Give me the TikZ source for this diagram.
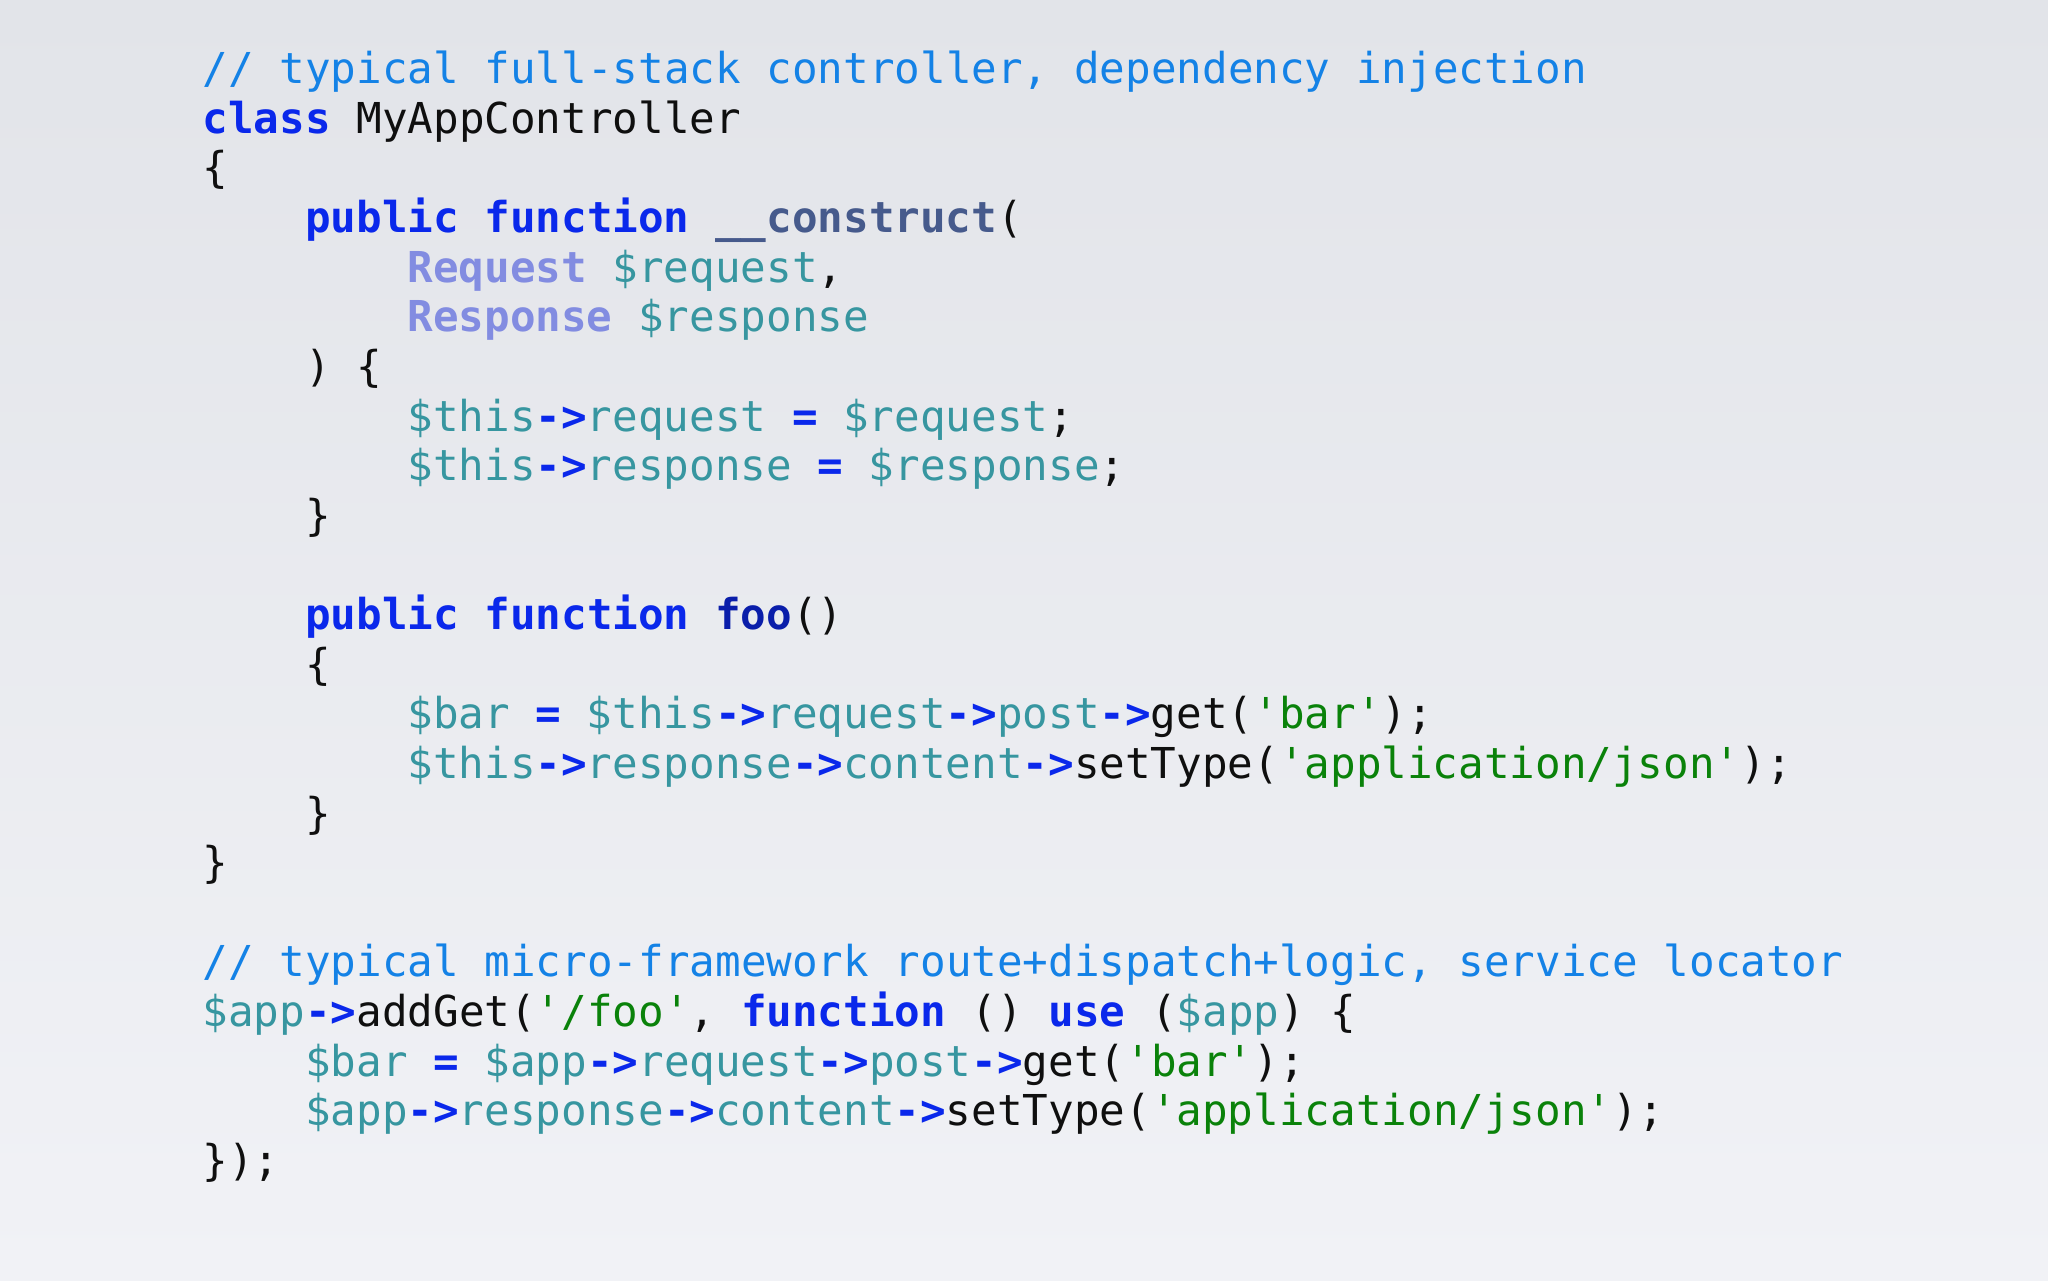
\documentclass[tikz,border=0pt]{standalone}
\usepackage{fontspec}
\newfontfamily\code{DejaVu Sans Mono}
\definecolor{cm}{RGB}{20,130,230}
\definecolor{kw}{RGB}{10,40,235}
\definecolor{vr}{RGB}{55,150,160}
\definecolor{ty}{RGB}{130,140,225}
\definecolor{fnc}{RGB}{70,90,140}
\definecolor{foo}{RGB}{10,30,170}
\definecolor{st}{RGB}{10,130,10}
\definecolor{tx}{RGB}{15,15,15}
\newcommand\Cm[1]{\textcolor{cm}{#1}}
\newcommand\Kw[1]{\textcolor{kw}{\bfseries #1}}
\newcommand\Vr[1]{\textcolor{vr}{#1}}
\newcommand\Ty[1]{\textcolor{ty}{\bfseries #1}}
\newcommand\Fc[1]{\textcolor{fnc}{\bfseries #1}}
\newcommand\Fo[1]{\textcolor{foo}{\bfseries #1}}
\newcommand\St[1]{\textcolor{st}{#1}}
\newcommand\Ar{\Kw{->}}
\newcommand\CodeLine[4]{\node[ln] (#1) at (155+#2*19.6,978-#3) {#4};}
\begin{document}
\begin{tikzpicture}[x=1pt,y=1pt,
  ln/.style={anchor=base west,inner sep=0pt,font=\code\fontsize{32.6}{38}\selectfont,text=tx}]
\shade[top color={rgb,255:red,226;green,228;blue,233},bottom color={rgb,255:red,241;green,242;blue,246}] (0,0) rectangle (1568,980);
\useasboundingbox (0,0) rectangle (1568,980);
\CodeLine{l0}{0}{62}{\Cm{// typical full-stack controller, dependency injection}}
\CodeLine{l1}{0}{100}{\Kw{class} MyAppController}
\CodeLine{l2}{0}{138}{\{}
\CodeLine{l3}{4}{176}{\Kw{public} \Kw{function} \Fc{\_\_construct}(}
\CodeLine{l4}{8}{214}{\Ty{Request} \Vr{\$request},}
\CodeLine{l5}{8}{252}{\Ty{Response} \Vr{\$response}}
\CodeLine{l6}{4}{290}{) \{}
\CodeLine{l7}{8}{328}{\Vr{\$this}\Ar\Vr{request} \Kw{=} \Vr{\$request};}
\CodeLine{l8}{8}{366}{\Vr{\$this}\Ar\Vr{response} \Kw{=} \Vr{\$response};}
\CodeLine{l9}{4}{404}{\}}
\CodeLine{l11}{4}{480}{\Kw{public} \Kw{function} \Fo{foo}()}
\CodeLine{l12}{4}{518}{\{}
\CodeLine{l13}{8}{556}{\Vr{\$bar} \Kw{=} \Vr{\$this}\Ar\Vr{request}\Ar\Vr{post}\Ar get(\St{'bar'});}
\CodeLine{l14}{8}{594}{\Vr{\$this}\Ar\Vr{response}\Ar\Vr{content}\Ar setType(\St{'application/json'});}
\CodeLine{l15}{4}{632}{\}}
\CodeLine{l16}{0}{670}{\}}
\CodeLine{l18}{0}{746}{\Cm{// typical micro-framework route+dispatch+logic, service locator}}
\CodeLine{l19}{0}{784}{\Vr{\$app}\Ar addGet(\St{'/foo'}, \Kw{function} () \Kw{use} (\Vr{\$app}) \{}
\CodeLine{l20}{4}{822}{\Vr{\$bar} \Kw{=} \Vr{\$app}\Ar\Vr{request}\Ar\Vr{post}\Ar get(\St{'bar'});}
\CodeLine{l21}{4}{860}{\Vr{\$app}\Ar\Vr{response}\Ar\Vr{content}\Ar setType(\St{'application/json'});}
\CodeLine{l22}{0}{898}{\});}
\end{tikzpicture}
\end{document}
